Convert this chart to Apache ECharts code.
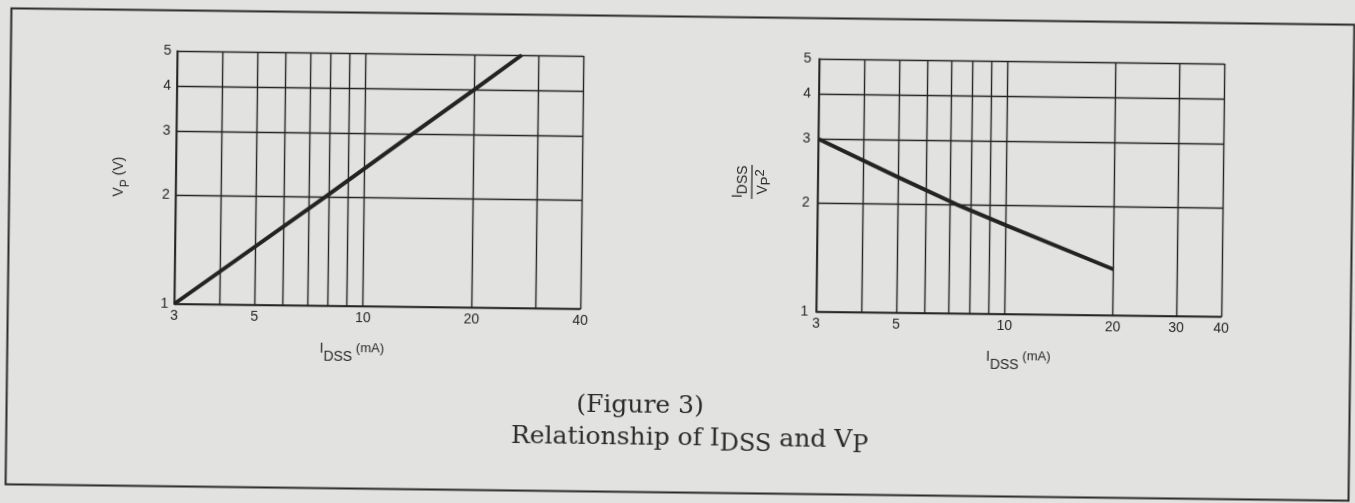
<!DOCTYPE html>
<html>
<head>
<meta charset="utf-8">
<script src="https://cdn.jsdelivr.net/npm/echarts@6/dist/echarts.min.js"></script>
<style>
  html, body { margin: 0; padding: 0; background: #e2e2e0; overflow: hidden; }
  #chart { width: 1355px; height: 503px; transform: rotate(0.7deg); transform-origin: 50% 50%; }
</style>
</head>
<body>
<div id="chart"></div>
<script>
// Pinch-off voltage Vp (V) against drain saturation current IDSS (mA)
const leftCurrent = [3, 7.8, 13.5, 20, 27];
const leftPinch = [1, 2, 3, 4, 5];

// IDSS / Vp^2 against IDSS (mA)
const rightCurrent = [3, 5, 7.3, 10, 20];
const rightRatio = [3, 2.37, 2, 1.76, 1.34];

// log-paper rulings and printed tick labels
const currentRulings = [3, 4, 5, 6, 7, 8, 9, 10, 20, 30, 40];
const valueRulings = [1, 2, 3, 4, 5];
const leftCurrentLabels = [3, 5, 10, 20, 40];
const rightCurrentLabels = [3, 5, 10, 20, 30, 40];
const valueLabels = [1, 2, 3, 4, 5];

const ink = '#232323';
const textInk = '#262626';
const sans = 'Liberation Sans, Arial, sans-serif';
const serif = 'DejaVu Serif, serif';

function pairs(xs, ys) { return xs.map((x, i) => [x, ys[i]]); }

function currentAxis(gridIndex, labels, nameOpt) {
  return Object.assign({
    type: 'log', logBase: 10, gridIndex, min: 3, max: 40,
    axisLine: { show: true, lineStyle: { color: ink, width: 1.7 } },
    axisTick: { show: false, customValues: currentRulings },
    splitLine: { show: true, lineStyle: { color: ink, width: 1.4, type: 'solid' } },
    axisLabel: { customValues: labels, color: textInk, fontFamily: sans, fontSize: 14, margin: 5 },
    nameLocation: 'middle'
  }, nameOpt);
}

function valueAxis(gridIndex, margin, nameOpt) {
  return Object.assign({
    type: 'log', logBase: 10, gridIndex, min: 1, max: 5,
    axisLine: { show: true, lineStyle: { color: ink, width: 1.7 } },
    axisTick: { show: false, customValues: valueRulings },
    splitLine: { show: true, lineStyle: { color: ink, width: 1.4, type: 'solid' } },
    axisLabel: { customValues: valueLabels, color: textInk, fontFamily: sans, fontSize: 14, margin },
    nameLocation: 'middle'
  }, nameOpt);
}

const idssRich = {
  i: { fontFamily: sans, fontSize: 14, color: textInk, lineHeight: 22, verticalAlign: 'top' },
  s: { fontFamily: sans, fontSize: 14, color: textInk, lineHeight: 22, verticalAlign: 'bottom' },
  u: { fontFamily: sans, fontSize: 13, color: textInk, lineHeight: 22, verticalAlign: 'top' }
};

const chart = echarts.init(document.getElementById('chart'), null, { renderer: 'canvas' });

chart.setOption({
  backgroundColor: 'transparent',
  animation: false,
  grid: [
    { left: 175, top: 57, width: 406, height: 253 },
    { left: 817, top: 57, width: 405, height: 253 }
  ],
  xAxis: [
    currentAxis(0, leftCurrentLabels, {
      name: '{i|I}{s|DSS}{u| (mA)}', nameGap: 36,
      nameTextStyle: { rich: idssRich, padding: [0, 50, 0, 0] }
    }),
    currentAxis(1, rightCurrentLabels, {
      name: '{i|I}{s|DSS}{u| (mA)}', nameGap: 36,
      nameTextStyle: { rich: idssRich }
    })
  ],
  yAxis: [
    valueAxis(0, 6, {
      name: '{v|V}{p|P}{u| (V)}',
      nameRotate: 90,
      nameGap: 44,
      nameTextStyle: {
        rich: {
          v: { fontFamily: sans, fontSize: 14, color: textInk, lineHeight: 20, verticalAlign: 'top' },
          p: { fontFamily: sans, fontSize: 12, color: textInk, lineHeight: 20, verticalAlign: 'bottom' },
          u: { fontFamily: sans, fontSize: 14, color: textInk, lineHeight: 20, verticalAlign: 'top' }
        }
      }
    }),
    valueAxis(1, 8, {})
  ],
  series: [
    {
      type: 'line', xAxisIndex: 0, yAxisIndex: 0,
      data: pairs(leftCurrent, leftPinch),
      symbol: 'none', lineStyle: { color: ink, width: 4 }, z: 5
    },
    {
      type: 'line', xAxisIndex: 1, yAxisIndex: 1,
      data: pairs(rightCurrent, rightRatio),
      symbol: 'none', lineStyle: { color: ink, width: 4 }, z: 5
    }
  ],
  graphic: [
    // page frame
    {
      type: 'rect', left: 6, top: 14,
      shape: { width: 1343, height: 476 },
      style: { fill: 'none', stroke: '#2a2a2a', lineWidth: 2 }, z: 1
    },
    // IDSS / Vp^2 axis title, written as a fraction
    {
      type: 'group', x: 751, y: 181, rotation: Math.PI / 2,
      children: [
        {
          type: 'text', x: 0, y: -2,
          style: {
            text: '{i|I}{s|DSS}', align: 'center', verticalAlign: 'bottom',
            rich: {
              i: { fontFamily: sans, fontSize: 14, fill: textInk, lineHeight: 19, verticalAlign: 'top' },
              s: { fontFamily: sans, fontSize: 14, fill: textInk, lineHeight: 19, verticalAlign: 'bottom' }
            }
          }
        },
        { type: 'line', shape: { x1: -17, y1: 0, x2: 17, y2: 0 }, style: { stroke: textInk, lineWidth: 1.2 } },
        {
          type: 'text', x: 0, y: 2,
          style: {
            text: '{v|V}{p|P}{q|2}', align: 'center', verticalAlign: 'top',
            rich: {
              v: { fontFamily: sans, fontSize: 14, fill: textInk, lineHeight: 19, verticalAlign: 'middle' },
              p: { fontFamily: sans, fontSize: 13, fill: textInk, lineHeight: 19, verticalAlign: 'bottom' },
              q: { fontFamily: sans, fontSize: 13, fill: textInk, lineHeight: 19, verticalAlign: 'top' }
            }
          }
        }
      ]
    },
    // caption
    {
      type: 'text', x: 642, y: 406,
      style: { text: '(Figure 3)', font: '25px ' + serif, fill: '#2b2b2b', align: 'center', verticalAlign: 'middle' }
    },
    {
      type: 'text', x: 692, y: 438,
      style: {
        text: '{n|Relationship of I}{s|DSS}{n| and V}{s|P}',
        align: 'center', verticalAlign: 'middle',
        rich: {
          n: { fontFamily: serif, fontSize: 25, fill: '#2b2b2b', lineHeight: 36, verticalAlign: 'middle' },
          s: { fontFamily: serif, fontSize: 24, fill: '#2b2b2b', lineHeight: 36, verticalAlign: 'bottom' }
        }
      }
    }
  ]
});
</script>
</body>
</html>
